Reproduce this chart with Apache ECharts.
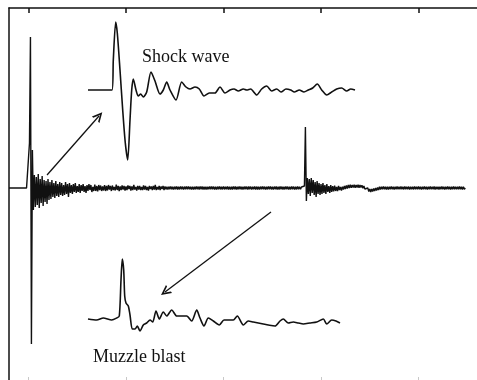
<!DOCTYPE html>
<html>
<head>
<meta charset="utf-8">
<title>Shock wave and muzzle blast</title>
<script src="https://cdn.jsdelivr.net/npm/echarts@6/dist/echarts.min.js"></script>
<style>
  html, body { margin: 0; padding: 0; background: #fff; }
  #chart { width: 477px; height: 380px; }
</style>
</head>
<body>
<div id="chart"></div>
<script>
// Full microphone record: uniformly sampled, first sample at mainStart, one sample every mainStep.
const mainStart = -20;
const mainStep = 1;
const mainValues = [
  0, 0, 0, 0, 0, 0, 0, 0, 0, 0, 0, 0, 0, 0, 0, 0, 0, 0, 0, 0,
  0, 4.5, 15.1, -15.6, 3.8, -2.2, 1.3, -1.9, 1.1, -1.7, 1.4, -2.0, 0.9, -1.5, 1.2, -1.8, 0.8, -1.4, 0.7, -1.6,
  0.9, -1.2, 0.6, -1.1, 0.8, -0.9, 0.5, -1.0, 0.7, -0.8, 0.4, -0.9, 0.6, -0.7, 0.5, -0.8, 0.3, -0.7, 0.6, -0.6,
  0.4, -0.9, 0.5, -0.5, 0.3, -0.6, 0.4, -0.4, 0.5, -0.5, 0.2, -0.4, 0.4, -0.5, 0.3, -0.3, 0.4, -0.4, 0.2, -0.5,
  0.3, -0.3, 0.4, -0.2, 0.3, -0.4, 0.1, -0.3, 0.35, -0.3, 0.2, -0.35, 0.3, -0.2, 0.25, -0.3, 0.15, -0.25, 0.3, -0.3,
  0.2, -0.25, 0.3, -0.15, 0.2, -0.3, 0.25, -0.2, 0.1, -0.25, 0.35, -0.2, 0.2, -0.3, 0.15, -0.2, 0.25, -0.15, 0.2, -0.25,
  0.15, -0.2, 0.25, -0.1, 0.2, -0.25, 0.15, -0.2, 0.3, -0.15, 0.1, -0.25, 0.2, -0.15, 0.2, -0.2, 0.1, -0.2, 0.25, -0.15,
  0.2, -0.2, 0.1, -0.25, 0.2, -0.1, 0.15, -0.2, 0.2, -0.15, 0.3, -0.2, 0.1, -0.15, 0.2, -0.2, 0.15, -0.1, 0.2, -0.2,
  0.15, -0.14, 0.13, -0.16, 0.14, -0.13, 0.16, -0.14, 0.12, -0.15, 0.14, -0.13, 0.16, -0.15, 0.13, -0.14, 0.15, -0.13, 0.14, -0.16,
  0.14, -0.13, 0.15, -0.14, 0.16, -0.13, 0.13, -0.15, 0.14, -0.16, 0.12, -0.14, 0.15, -0.13, 0.14, -0.15, 0.16, -0.13, 0.14, -0.14,
  0.13, -0.15, 0.14, -0.16, 0.13, -0.13, 0.15, -0.14, 0.16, -0.13, 0.14, -0.15, 0.13, -0.16, 0.14, -0.13, 0.15, -0.14, 0.13, -0.14,
  0.15, -0.14, 0.13, -0.13, 0.16, -0.15, 0.14, -0.16, 0.13, -0.14, 0.14, -0.13, 0.15, -0.15, 0.13, -0.14, 0.16, -0.13, 0.14, -0.15,
  0.13, -0.14, 0.15, -0.13, 0.14, -0.16, 0.15, -0.13, 0.14, -0.15, 0.13, -0.13, 0.15, -0.16, 0.14, -0.14, 0.13, -0.15, 0.14, -0.13,
  0.15, -0.13, 0.14, -0.15, 0.13, -0.14, 0.16, -0.13, 0.15, -0.14, 0.13, -0.15, 0.14, -0.13, 0.15, -0.16, 0.13, -0.14, 0.14, -0.13,
  0.14, -0.15, 0.13, -0.14, 0.15, -0.13, 0.14, -0.16, 0.13, -0.14, 0.15, -0.13, 0.14, -0.15, 0.13, -0.14, 0.15, -0.13, 0.12, -0.13,
  0.1, -0.1, 0.05, 0.2, 6.1, -1.3, 1.0, -0.6, 0.9, -0.8, 1.0, -0.5, 0.8, -0.7, 0.6, -0.9, 0.7, -0.6, 0.5, -0.7,
  0.4, -0.6, 0.5, -0.5, 0.3, -0.6, 0.4, -0.4, 0.2, -0.5, 0.3, -0.4, 0.2, -0.35, 0.25, -0.3, 0.1, -0.3, 0.2, -0.2,
  0.1, -0.25, 0.12, -0.15, 0.2, -0.1, 0.25, -0.05, 0.3, 0.0, 0.32, 0.02, 0.3, 0.05, 0.33, 0.02, 0.3, 0.05, 0.32, 0.03,
  0.3, 0.05, 0.28, -0.02, 0.2, -0.1, 0.1, -0.2, 0.0, -0.35, -0.1, -0.4, -0.1, -0.35, -0.05, -0.3, 0.0, -0.25, 0.05, -0.2,
  0.13, -0.14, 0.12, -0.13, 0.15, -0.12, 0.13, -0.14, 0.12, -0.15, 0.13, -0.13, 0.14, -0.12, 0.13, -0.15, 0.12, -0.13, 0.14, -0.13,
  0.13, -0.12, 0.14, -0.13, 0.12, -0.14, 0.15, -0.13, 0.13, -0.12, 0.14, -0.15, 0.12, -0.13, 0.13, -0.14, 0.15, -0.12, 0.13, -0.13,
  0.14, -0.13, 0.12, -0.15, 0.13, -0.13, 0.14, -0.12, 0.13, -0.14, 0.12, -0.13, 0.15, -0.13, 0.13, -0.12, 0.14, -0.14, 0.12, -0.13,
  0.13, -0.14, 0.13, -0.12, 0.15, -0.13, 0.12, -0.14, 0.13, -0.13, 0.14, -0.12, 0.13, -0.15, 0.12, -0.13, 0.14, -0.13, 0.13, -0.12,
  0.13, -0.13, 0.14, -0.12, 0.13, -0.14, 0.12, -0.13, 0.0
];
const mainTicks = [0, 100, 200, 300, 400];

// Zoomed view of the shock wave (time offset, pressure).
const shockTime = [
  0, 24, 25.3, 27.7, 29.3, 32, 34.7, 37.3, 39.7, 42, 43.7, 45.3, 48, 50.3, 52.7,
  55.3, 58.7, 63, 67, 72, 75.3, 78.7, 82, 88, 93.7, 98, 102, 107, 111.3, 116,
  121.3, 127, 132, 137, 142, 146, 150.3, 155.3, 158.7, 162.7, 168.7, 173.7, 178.7,
  183.7, 188.7, 193, 198, 202.7, 206.3, 211.3, 216, 220.3, 224.7, 229.3, 233.7,
  238.7, 243.7, 248.7, 253.7, 258.7, 262.7, 267
];
const shockValue = [
  0, 0, 3.0, 6.8, 5.7, 2.0, -2.0, -5.3, -7.0, -3.0, 0, 1.1, 0, -0.6, -0.4,
  -0.7, -0.2, 1.8, 0.9, -0.4, 0, 0.8, 0, -1.0, 0.8, 0.3, 0.1, 0.3, 0.1, -0.6,
  -0.3, -0.3, 0.3, -0.3, 0, 0.1, -0.1, 0.1, 0, 0.1, -0.5, 0.1, 0.4,
  -0.1, 0.1, -0.2, 0.1, 0, -0.2, 0, -0.2, 0, 0.2, 0.6, 0,
  -0.5, -0.2, 0.1, 0.2, -0.1, 0.1, 0
];

// Zoomed view of the muzzle blast (time offset, pressure).
const blastTime = [
  0, 8.7, 15.3, 23.7, 28.7, 31.3, 33, 34.3, 35.7, 36.7, 38, 40.3, 42, 44.3, 47,
  49.3, 52, 55.3, 58.7, 62, 64.7, 68, 71.3, 75.3, 78.7, 83.7, 88.7, 93.7, 98.7,
  103.7, 108.7, 112, 116, 120.3, 125.3, 131.3, 136, 140.3, 145.3, 149.3, 155.3,
  160.3, 165.3, 170.3, 175.3, 180.3, 187, 192, 195.3, 200.3, 205.3, 210.3, 215.3,
  222, 228.7, 235.3, 238.7, 243.7, 248, 252
];
const blastValue = [
  0, -0.1, 0.1, -0.1, 0.1, 0.3, 3.9, 6.0, 4.9, 2.3, 1.6, 1.3, 0.4, -1.0, -1.0,
  -0.7, -1.2, -0.6, -0.4, -0.1, -0.3, 0.8, 0, 0.7, 0.3, 0.9, 0.3, 0.3, 0.3,
  -0.2, 0.9, 0.1, -0.7, 0.1, -0.2, -0.6, -0.1, -0.1, -0.1, 0.3, -0.6,
  -0.2, -0.3, -0.4, -0.5, -0.6, -0.7, -0.2, 0, -0.4, -0.3, -0.4, -0.5,
  -0.4, -0.3, 0, -0.5, -0.1, -0.2, -0.4
];

// Pointers from the record to each zoomed view (main-axis units).
const shockPointer = [[19, 1.3], [72.3, 7.2]];
const blastPointer = [[248.7, -2.4], [140, -10.4]];

const ink = '#111';
const serif = '"Liberation Serif", "DejaVu Serif", serif';
const openHead = 'path://M0,10 L5,0 L10,10 L8.2,10 L5,3.6 L1.8,10 Z';

const chart = echarts.init(document.getElementById('chart'), null, { renderer: 'canvas' });

const hiddenAxis = {
  show: false, axisLine: { show: false }, axisTick: { show: false },
  axisLabel: { show: false }, splitLine: { show: false }
};

chart.setOption({
  animation: false,
  backgroundColor: '#fff',
  grid: [
    { left: 9, top: 8, right: 0, bottom: 0 },
    { left: 88, top: 10, width: 270, height: 160 },
    { left: 88, top: 239, width: 270, height: 120 }
  ],
  xAxis: [
    {
      type: 'value', gridIndex: 0, position: 'top', min: -20, max: 460,
      axisLine: { show: true, onZero: false, lineStyle: { color: ink, width: 1.5 } },
      axisTick: { show: true, inside: true, length: 5, customValues: mainTicks,
                  lineStyle: { color: ink, width: 1.5 } },
      axisLabel: { show: false }, splitLine: { show: false }
    },
    {
      type: 'value', gridIndex: 0, position: 'bottom', min: -20, max: 460,
      axisLine: { show: false, onZero: false },
      axisTick: { show: true, inside: true, length: 3, customValues: mainTicks,
                  lineStyle: { color: '#c8c8c8', width: 1 } },
      axisLabel: { show: false }, splitLine: { show: false }
    },
    Object.assign({ type: 'value', gridIndex: 1, min: 0, max: 270 }, hiddenAxis),
    Object.assign({ type: 'value', gridIndex: 2, min: 0, max: 270 }, hiddenAxis)
  ],
  yAxis: [
    {
      type: 'value', gridIndex: 0, min: -19.2, max: 18,
      axisLine: { show: true, onZero: false, lineStyle: { color: ink, width: 1.5 } },
      axisTick: { show: false }, axisLabel: { show: false }, splitLine: { show: false }
    },
    Object.assign({ type: 'value', gridIndex: 1, min: -8, max: 8 }, hiddenAxis),
    Object.assign({ type: 'value', gridIndex: 2, min: -4, max: 8 }, hiddenAxis)
  ],
  series: [
    {
      name: 'record', type: 'line', xAxisIndex: 0, yAxisIndex: 0,
      data: mainValues.map((v, i) => [mainStart + i * mainStep, v]),
      showSymbol: false, symbol: 'none',
      lineStyle: { color: ink, width: 1.4 }
    },
    {
      name: 'Shock wave', type: 'line', xAxisIndex: 2, yAxisIndex: 1,
      data: shockTime.map((t, i) => [t, shockValue[i]]),
      showSymbol: false, symbol: 'none', smooth: 0.25,
      lineStyle: { color: ink, width: 1.6 }
    },
    {
      name: 'Muzzle blast', type: 'line', xAxisIndex: 3, yAxisIndex: 2,
      data: blastTime.map((t, i) => [t, blastValue[i]]),
      showSymbol: false, symbol: 'none', smooth: 0.25,
      lineStyle: { color: ink, width: 1.6 }
    },
    {
      name: 'pointers', type: 'lines', coordinateSystem: 'cartesian2d',
      xAxisIndex: 0, yAxisIndex: 0,
      symbol: ['none', openHead], symbolSize: [9, 10], symbolOffset: [0, [0, 5]],
      lineStyle: { color: ink, width: 1.3, opacity: 1, curveness: 0 },
      itemStyle: { color: ink },
      data: [{ coords: shockPointer }, { coords: blastPointer }]
    }
  ],
  graphic: [
    { type: 'text', left: 142, top: 48,
      style: { text: 'Shock wave', font: '18px ' + serif, fill: ink } },
    { type: 'text', left: 93, top: 348,
      style: { text: 'Muzzle blast', font: '18px ' + serif, fill: ink } }
  ]
});
</script>
</body>
</html>
